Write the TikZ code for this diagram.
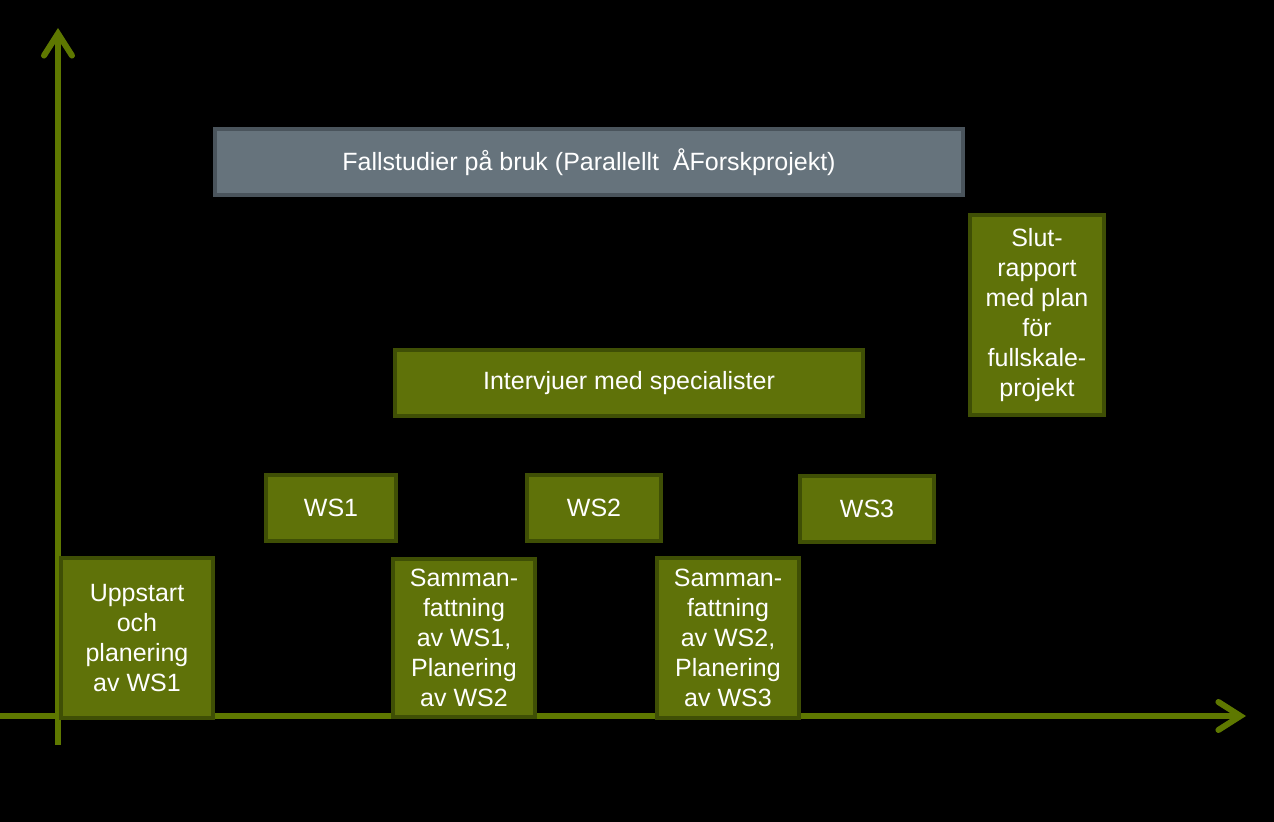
\documentclass[tikz,border=0pt]{standalone}
\usepackage{fontspec}
\setmainfont{Liberation Sans}
\usetikzlibrary{arrows.meta}
\definecolor{axisgreen}{HTML}{5E7800}
\definecolor{taskfill}{HTML}{5F7209}
\definecolor{taskline}{HTML}{3F4F05}
\definecolor{barfill}{HTML}{66737C}
\definecolor{barline}{HTML}{4A545C}
\begin{document}
\begin{tikzpicture}[
            x = 0.5pt, y = -0.5pt,
            > = {Straight Barb[length=11pt,width=14pt,line cap=round]},
  axis/.style = {line width=3pt, draw=axisgreen, ->},
  task/.style = {draw=taskline, fill=taskfill, line width=2pt, anchor=north west,
                 text=white, align=center, inner sep=0pt,
                 font=\fontsize{12.5}{15}\selectfont},
   bar/.style = {task, draw=barline, fill=barfill}
                        ]
% background
    \useasboundingbox (0,0) rectangle (1274,822);
    \fill[black] (0,0) rectangle (1274,822);
% axes
    \coordinate (ybot) at (58,745);
    \coordinate (ytop) at (58,28);
    \coordinate (xleft) at (0,716);
    \coordinate (xright) at (1246,716);
    \draw[axis] (ybot) -- (ytop);
    \draw[axis] (xleft) -- (xright);
% long activities
    \node[bar, minimum width=374pt, minimum height=33pt] (fall) at (213,127)
        {Fallstudier på bruk (Parallellt\ \ ÅForskprojekt)};
    \node[task, minimum width=234pt, minimum height=33pt] (interv) at (393,348)
        {Intervjuer\ med specialister};
    \node[task, minimum width=67pt, minimum height=100pt] (slut) at (968,213)
        {Slut-\\rapport\\med plan\\för\\fullskale-\\projekt};
% workshops
    \node[task, minimum width=65pt, minimum height=33pt] (ws1) at (264,473) {WS1};
    \node[task, minimum width=67pt, minimum height=33pt] (ws2) at (525,473) {WS2};
    \node[task, minimum width=67pt, minimum height=33pt] (ws3) at (798,474) {WS3};
% planning steps
    \node[task, minimum width=76pt, minimum height=80pt] (start) at (59,556)
        {Uppstart\\och\\planering\\av WS1};
    \node[task, minimum width=71pt, minimum height=79pt] (samm1) at (391,557)
        {Samman-\\fattning\\av WS1,\\Planering\\av WS2};
    \node[task, minimum width=71pt, minimum height=80pt] (samm2) at (655,556)
        {Samman-\\fattning\\av WS2,\\Planering\\av WS3};
\end{tikzpicture}
\end{document}
